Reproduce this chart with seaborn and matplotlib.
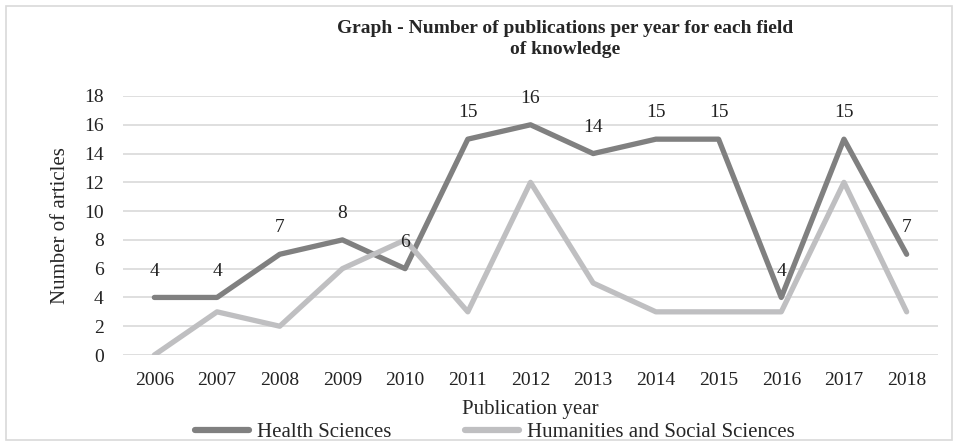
import seaborn as sns
import pandas as pd
import matplotlib.pyplot as plt
from matplotlib.patches import Rectangle

years = ["2006", "2007", "2008", "2009", "2010", "2011", "2012",
         "2013", "2014", "2015", "2016", "2017", "2018"]
health = [4, 4, 7, 8, 6, 15, 16, 14, 15, 15, 4, 15, 7]
humanities = [0, 3, 2, 6, 8, 3, 12, 5, 3, 3, 3, 12, 3]
series_names = ["Health Sciences", "Humanities and Social Sciences"]
colors = ["#808080", "#bfbfc1"]

df = pd.DataFrame({
    "year": years * 2,
    "articles": health + humanities,
    "field": [series_names[0]] * len(years) + [series_names[1]] * len(years),
})

sns.set_style("white")
plt.rcParams["font.family"] = ["Liberation Serif", "DejaVu Serif"]

fig = plt.figure(figsize=(9.58, 4.45), dpi=100)
ax = fig.add_axes([123 / 958, 90 / 445, 815 / 958, 259 / 445])

sns.lineplot(data=df, x="year", y="articles", hue="field",
             palette=colors, linewidth=3.8, ax=ax, legend=False, sort=False)

ax.set_ylim(0, 18)
ax.set_yticks(range(0, 19, 2))
ax.set_xlim(-0.5, len(years) - 0.5)
ax.grid(axis="y", color="#d9d9d9", linewidth=1.2)
ax.set_axisbelow(True)
for s in ax.spines.values():
    s.set_visible(False)
ax.tick_params(axis="both", length=0, labelsize=14, colors="#222222")
ax.tick_params(axis="x", pad=12)
ax.tick_params(axis="y", pad=14)
ax.set_xlabel("Publication year", fontsize=15, labelpad=8)
ax.set_ylabel("Number of articles", fontsize=15, labelpad=10)

# value labels for health sciences
for i, v in enumerate(health):
    ax.annotate(str(v), (i, v), xytext=(0, 19), textcoords="offset points",
                ha="center", va="center", fontsize=14, color="#222222")

fig.text(565 / 958, 1 - 39 / 445,
         "Graph - Number of publications per year for each field\nof knowledge",
         ha="center", va="center", fontsize=14, fontweight="bold",
         linespacing=1.25)

handles = [plt.Line2D([], [], color=c, linewidth=4.5) for c in colors]
fig.legend(handles, series_names, loc="center", bbox_to_anchor=(495 / 958, 1 - 432 / 445),
           ncol=2, frameon=False, fontsize=15, handlelength=2.6, columnspacing=3.5,
           handletextpad=0.4)

fig.patches.append(Rectangle((6 / 958, 5 / 445), 946 / 958, 434 / 445,
                             transform=fig.transFigure, fill=False,
                             edgecolor="#d9d9d9", linewidth=1.2))

fig.savefig("out.png", dpi=100)
